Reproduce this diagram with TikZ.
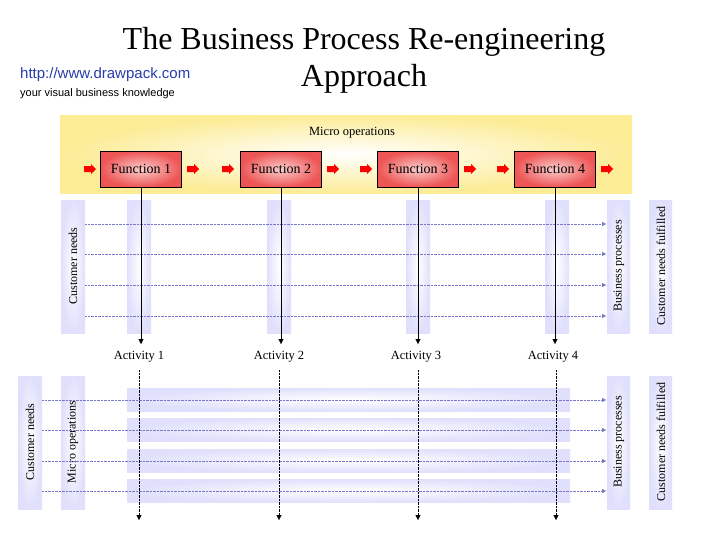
\documentclass[tikz,border=0pt]{standalone}
\usepackage{fontspec}
\setmainfont{Liberation Serif}
\newfontfamily\arial{Liberation Sans}
\usetikzlibrary{arrows.meta}
\definecolor{lav}{RGB}{224,224,252}
\definecolor{band}{RGB}{252,236,150}
\definecolor{fred}{RGB}{238,85,85}
\definecolor{dotc}{RGB}{120,120,200}
\definecolor{linkc}{RGB}{40,60,170}
\tikzset{
 bar/.style={draw=none,inner color=white,outer color=lav},
 hline/.style={dotc,densely dotted,-{Triangle[length=4pt,width=4pt]}},
 vsolid/.style={black,thin,-{Triangle[length=5pt,width=5pt]}},
 vdot/.style={black,densely dotted,-{Triangle[length=5pt,width=5pt]}},
 func/.style={draw=black,inner color=white!70!fred,outer color=fred,minimum width=81pt,minimum height=36pt,font=\fontsize{14}{14}\selectfont},
 redarr/.style={fill=red,draw=none},
 vlab/.style={rotate=90,font=\fontsize{12}{12}\selectfont},
 lab/.style={font=\fontsize{12.5}{12.5}\selectfont}
}
\begin{document}
\begin{tikzpicture}[x=1pt,y=-1pt]
\useasboundingbox (0,0) rectangle (728,546);
\node (t1) at (364,42) {\fontsize{32}{32}\selectfont The Business Process Re-engineering};
\node (t2) at (364,79) {\fontsize{32}{32}\selectfont Approach};
\node[anchor=west,inner sep=0,text=linkc] (url) at (20,75) {\arial\fontsize{15}{15}\selectfont http://www.drawpack.com};
\node[anchor=west,inner sep=0] (sub) at (20,94) {\arial\fontsize{11}{11}\selectfont your visual business knowledge};
% band
\shade[inner color=white,outer color=band] (60,115) rectangle (632,193);
\node[lab] (mo) at (352,133) {Micro operations};
% upper bars
\shade[bar] (61,200) rectangle (85,333);
\node[vlab] (cn1) at (73,266) {Customer needs};
\foreach \x in {139,279,418,557}{\shade[bar] (\x-12,200) rectangle (\x+12,333);}
\shade[bar] (607,200) rectangle (630,333);
\node[vlab] (bp1) at (619,266) {Business processes};
\shade[bar] (649,200) rectangle (672,333);
\node[vlab] (cf1) at (661,266) {Customer needs fulfilled};
\foreach \y in {224,254,285,316}{\coordinate (hs\y) at (85,\y);\coordinate (he\y) at (606,\y);\draw[hline] (hs\y) -- (he\y);}
% functions
\foreach \i/\x in {1/141,2/281,3/418,4/555}{
 \node[func] (f\i) at (\x,169) {Function \i};
 \coordinate (a\i) at (\x-2,344);
 \draw[vsolid] (f\i.south) -- (f\i.south |- a\i);
 \node[lab] (act\i) at (\x-2,357) {Activity \i};
}
\foreach \x in {90,193,228,333,366,470,503,607}{
 \fill[redarr] (\x-6,166) -- (\x+1,166) -- (\x+1,164) -- (\x+6,169) -- (\x+1,174) -- (\x+1,172) -- (\x-6,172) -- cycle;}
% lower
\shade[bar] (18,376) rectangle (42,509);
\node[vlab] (cn2) at (30,442) {Customer needs};
\shade[bar] (61,376) rectangle (85,509);
\node[vlab] (mo2) at (73,442) {Micro operations};
\foreach \y in {388,418,449,479}{\shade[bar] (127,\y) rectangle (570,\y+23);}
\shade[bar] (607,376) rectangle (630,509);
\node[vlab] (bp2) at (619,442) {Business processes};
\shade[bar] (649,376) rectangle (672,509);
\node[vlab] (cf2) at (661,442) {Customer needs fulfilled};
\foreach \y in {400,430,461,491}{\coordinate (ls\y) at (42,\y);\coordinate (le\y) at (606,\y);\draw[hline] (ls\y) -- (le\y);}
\foreach \i/\x in {1/139,2/279,3/418,4/556}{\coordinate (vs\i) at (\x,370);\coordinate (ve\i) at (\x,520);\draw[vdot] (vs\i) -- (ve\i);}
\end{tikzpicture}
\end{document}
